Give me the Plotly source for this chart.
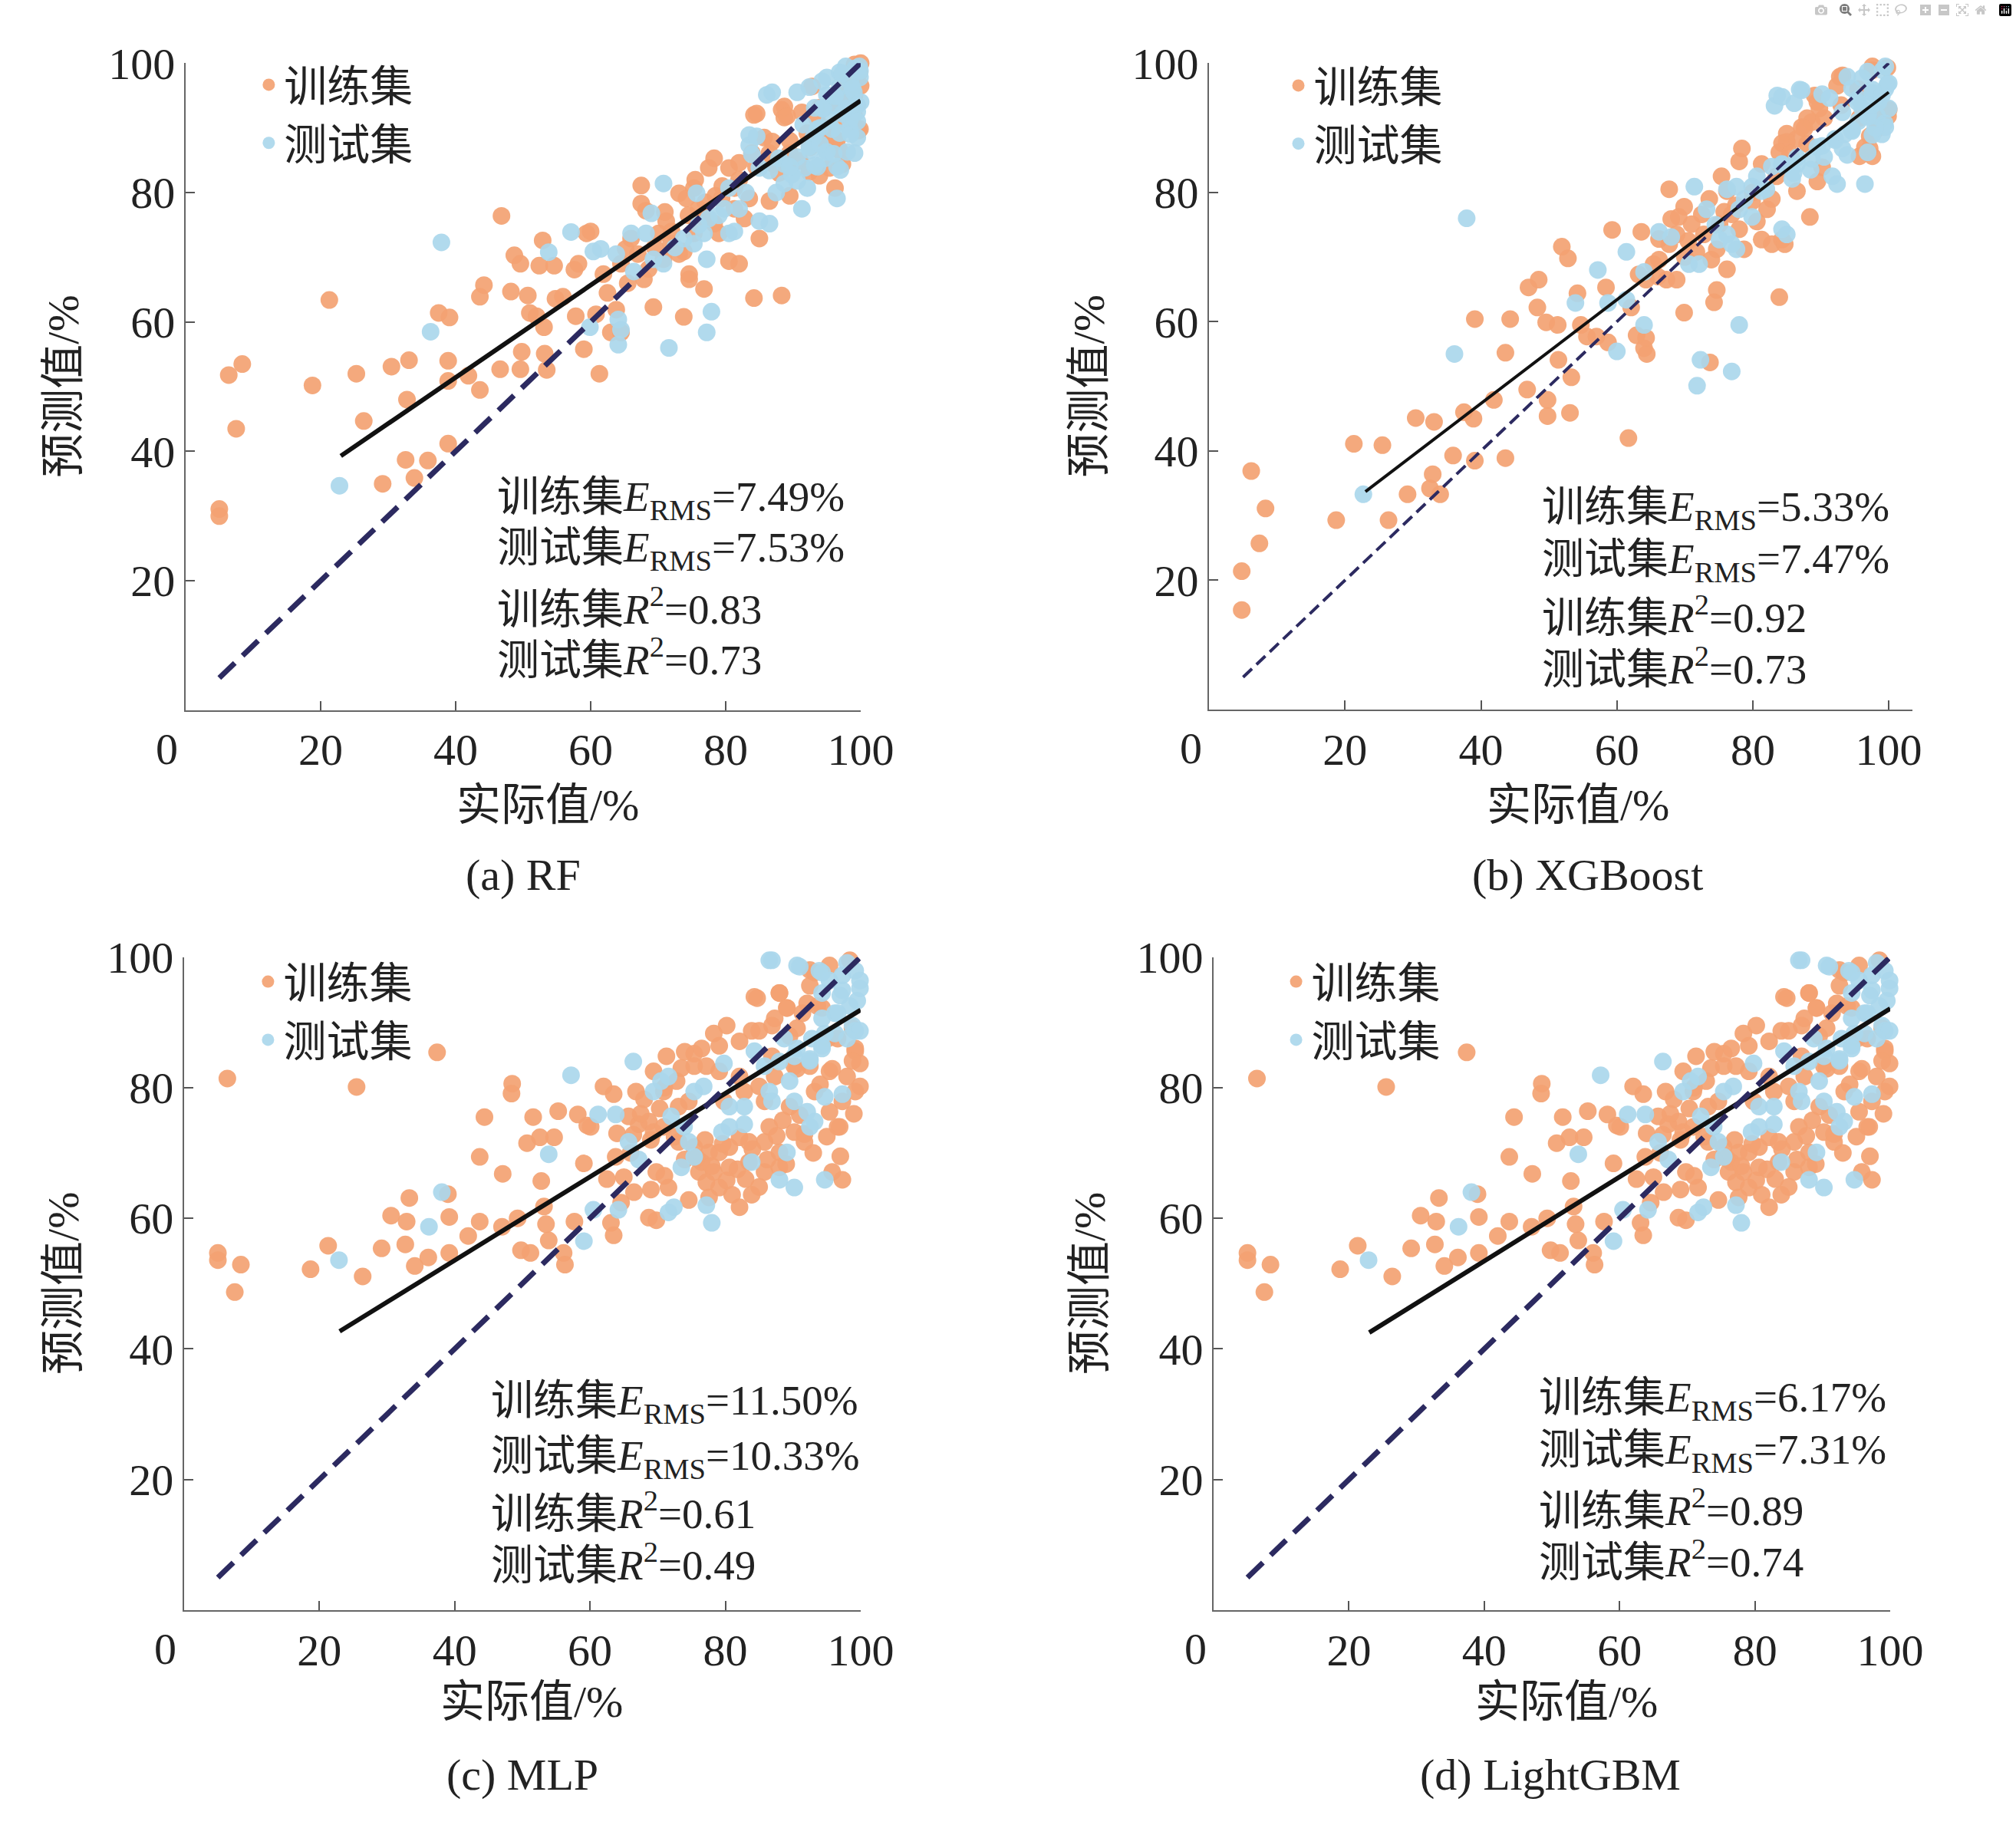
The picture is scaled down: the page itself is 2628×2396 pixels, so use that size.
import plotly.graph_objects as go

# ---- data (实际值 x, 预测值 y, in %) ----

# (a) RF
rf_train_x = [5.0, 5.0, 6.4, 8.4, 7.5, 18.8, 21.3, 25.3, 26.4, 29.2, 30.5, 33.1, 32.8, 32.6, 33.9, 35.9,
              37.5, 39.1, 38.9, 38.9, 38.9, 41.9, 43.6, 43.6, 44.2, 46.8, 46.6, 48.7, 49.6, 48.2, 49.8, 49.6,
              50.7, 51.0, 52.0, 52.9, 52.4, 53.1, 53.2, 53.5, 54.6, 54.8, 55.9, 57.6, 57.8, 58.2, 59.0, 59.4,
              61.3, 84.2, 88.3, 88.7, 91.3, 99.7, 96.5, 96.9, 78.3, 77.5, 80.5, 82.0, 85.7, 86.5, 83.9, 89.5,
              91.0, 93.9, 95.4, 96.2, 67.5, 67.5, 68.2, 60.0, 73.1, 74.2, 75.3, 76.0, 79.4, 81.3, 83.5, 86.5,
              89.5, 70.1, 71.2, 71.9, 73.8, 75.3, 76.8, 78.3, 79.0, 82.8, 65.2, 66.0, 64.5, 61.9, 67.9, 68.6,
              70.8, 73.1, 80.5, 82.0, 74.6, 74.6, 76.8, 69.3, 73.8, 84.2, 88.3, 60.8, 63.8, 63.0, 64.5, 85.0,
              81.3, 87.9, 92.1, 94.7, 93.9, 99.1, 99.8, 99.1, 97.0, 99.0, 95.5, 98.0, 100.0, 93.5,
              84.6, 88.7, 89.1, 92.8, 99.9, 100.0, 96.2, 97.3, 92.4, 86.9,
              62.5, 65.5, 67.0, 69.5, 72.0, 74.5, 77.0, 79.5, 82.0, 84.5, 87.0, 89.5, 92.5, 95.0, 97.5, 71.0,
              75.5, 78.5]
rf_train_y = [31.1, 30.0, 51.8, 53.5, 43.5, 50.2, 63.4, 52.0, 44.7, 35.0, 53.1, 54.1, 48.0, 38.7, 35.9, 38.6,
              61.4, 60.7, 54.0, 50.9, 41.2, 51.7, 49.5, 63.9, 65.7, 76.4, 52.7, 70.3, 69.0, 64.7, 55.4, 52.7,
              64.1, 61.4, 60.9, 72.6, 68.7, 59.2, 55.1, 52.6, 68.7, 63.6, 63.9, 68.1, 60.9, 69.0, 55.8, 73.7,
              52.0, 92.0, 92.8, 91.6, 92.4, 89.6, 88.1, 86.5, 85.3, 83.8, 83.8, 84.6, 88.5, 86.1, 86.1, 86.1,
              84.9, 82.6, 83.8, 80.7, 81.1, 78.3, 77.2, 74.0, 79.9, 79.1, 80.7, 77.5, 79.1, 77.5, 79.1, 78.7,
              79.5, 73.7, 75.6, 72.1, 70.9, 73.7, 76.0, 75.2, 73.7, 76.0, 71.3, 72.9, 69.0, 67.4, 66.6, 68.2,
              69.7, 70.5, 69.4, 69.0, 67.4, 66.6, 65.1, 62.3, 60.8, 63.7, 64.1, 61.2, 61.9, 58.4, 58.4, 72.9,
              80.7, 83.0, 89.2, 88.1, 93.1, 95.1, 98.6, 99.8, 95.0, 92.0, 93.8, 97.5, 96.5, 91.5,
              92.2, 93.3, 91.8, 96.4, 89.8, 100.0, 88.3, 84.4, 83.2, 87.9,
              64.5, 66.0, 70.5, 71.5, 74.0, 76.5, 78.5, 81.0, 82.0, 84.0, 84.5, 88.0, 87.0, 90.0, 91.0, 77.0,
              82.0, 79.5]
rf_test_x = [22.8, 37.9, 36.3, 53.8, 57.1, 59.9, 64.1, 71.6, 86.1, 86.9, 90.6, 92.4, 95.0, 96.9, 99.2, 99.9,
             96.9, 95.0, 93.2, 95.4, 98.4, 99.1, 96.9, 94.7, 93.2, 91.7, 92.1, 96.5, 83.5, 83.5, 85.0, 86.5,
             88.7, 90.6, 87.9, 70.8, 69.0, 68.2, 66.0, 61.5, 60.4, 63.8, 66.4, 75.7, 80.5, 82.0, 79.8, 77.5,
             80.5, 76.8, 75.3, 73.8, 81.3, 85.0, 86.5, 91.3, 77.2, 69.3, 70.8, 77.9, 77.2, 64.1, 64.5, 97.5,
             99.0, 98.0, 94.0, 99.5, 98.5, 99.8, 97.8, 96.0, 99.5, 93.0, 91.5, 94.5,
             94.3, 97.3, 99.9, 98.8, 96.2, 94.3, 97.3, 99.5, 98.4, 95.8, 93.6, 92.4, 95.0, 98.0, 90.6, 93.6,
             96.5, 88.7, 84.6, 83.9, 89.8,
             72.5, 76.0, 79.0, 83.0, 87.5, 89.5, 92.5, 94.0, 96.0, 98.5, 97.0, 100.0, 99.5]
rf_test_y = [34.7, 72.3, 58.5, 70.8, 73.9, 59.2, 56.5, 56.0, 95.1, 95.5, 95.5, 96.3, 97.8, 98.6, 99.2, 97.8,
             96.3, 95.1, 93.1, 91.2, 91.2, 86.1, 89.2, 85.3, 84.2, 83.8, 80.7, 79.1, 88.9, 87.3, 83.8, 83.4,
             81.4, 81.8, 85.3, 81.4, 76.8, 73.7, 73.7, 71.3, 70.9, 70.5, 67.8, 79.9, 80.7, 77.5, 77.5, 76.0,
             73.7, 73.7, 72.1, 72.9, 74.0, 75.6, 75.2, 77.5, 69.7, 69.7, 69.0, 61.6, 58.4, 60.4, 58.8, 94.5,
             95.5, 93.0, 90.0, 93.5, 97.0, 99.5, 99.5, 93.5, 88.5, 88.5, 90.5, 93.0,
             97.2, 98.4, 98.8, 96.1, 94.9, 93.0, 92.2, 92.5, 89.8, 89.8, 89.8, 87.1, 86.3, 86.3, 85.5, 84.0,
             84.0, 84.4, 88.7, 85.9, 82.8,
             71.5, 75.0, 76.5, 80.0, 80.0, 84.0, 86.5, 87.5, 86.0, 89.0, 83.5, 94.0, 91.0]

# (b) XGBoost
xgb_train_x = [4.8, 4.8, 6.2, 7.4, 8.3, 18.7, 21.3, 25.5, 26.4, 29.2, 30.4, 33.1, 32.9, 32.5, 34.0, 35.9,
               37.5, 38.9, 39.1, 39.1, 41.9, 43.6, 44.3, 43.6, 46.8, 47.0, 48.5, 48.3, 49.6, 49.8, 49.8, 51.3,
               51.9, 52.8, 51.4, 53.3, 53.1, 54.2, 54.7, 55.6, 57.0, 58.4, 58.7, 59.3, 61.7, 64.0, 64.4, 73.7,
               93.2, 97.6, 99.8, 92.4, 89.1, 89.8, 88.0, 87.6, 85.0, 99.8, 99.9, 97.2, 97.6, 95.7, 78.4, 78.0,
               81.3, 84.3, 86.5, 75.4, 76.2, 73.6, 72.5, 69.9, 67.7, 69.1, 71.0, 68.0, 67.7, 65.4, 63.6, 66.2,
               68.8, 75.1, 76.9, 78.0, 80.6, 81.3, 82.8, 84.3, 84.7, 82.1, 82.8, 88.4, 89.5, 86.5, 71.7, 73.9,
               74.7, 76.2, 78.7, 66.2, 64.3, 67.3, 68.8, 74.7, 74.3, 69.9, 83.9, 62.9, 64.3, 62.1, 63.2, 79.9,
               95.7, 97.2, 98.3,
               92.8, 97.6, 89.5, 88.7, 87.2, 100.0, 99.1, 96.5, 85.0, 83.9, 90.2,
               66.0, 70.5, 72.8, 77.5, 80.0, 83.5, 85.5, 88.0, 90.5, 93.0, 95.5, 70.0, 75.8]
xgb_train_y = [21.4, 15.4, 36.9, 25.7, 31.1, 29.3, 41.1, 40.9, 29.3, 33.3, 45.1, 44.5, 36.4, 34.2, 33.3, 39.3,
               46.0, 45.0, 60.4, 38.5, 47.9, 55.2, 60.4, 38.9, 49.5, 65.3, 66.5, 62.2, 59.9, 47.9, 45.4, 59.5,
               71.6, 69.8, 54.1, 51.4, 45.9, 64.4, 59.5, 57.7, 57.7, 65.3, 56.8, 74.2, 42.0, 55.9, 55.0, 53.7,
               98.1, 98.9, 99.3, 96.5, 95.0, 93.0, 91.5, 89.9, 89.1, 92.6, 91.8, 86.8, 85.6, 85.6, 86.8, 84.8,
               84.4, 87.6, 88.3, 82.5, 80.2, 79.0, 76.6, 77.8, 80.5, 76.2, 75.1, 75.9, 72.0, 68.9, 73.9, 72.8,
               73.5, 75.1, 76.6, 74.3, 75.5, 72.7, 72.0, 72.7, 72.0, 77.4, 79.0, 76.2, 81.7, 80.2, 70.8, 69.6,
               71.2, 68.1, 71.2, 69.6, 66.5, 66.5, 66.5, 64.9, 63.0, 61.4, 63.8, 57.9, 57.5, 62.2, 67.3, 78.6,
               91.5, 88.7, 89.9,
               97.9, 99.5, 94.0, 90.9, 90.1, 92.8, 92.0, 87.0, 87.8, 86.2, 83.9,
               67.0, 72.5, 73.5, 78.0, 80.0, 82.5, 86.0, 87.5, 91.5, 93.5, 96.0, 70.0, 77.0]
xgb_test_x = [22.7, 36.1, 37.9, 53.9, 57.2, 58.7, 60.0, 72.3, 71.8, 76.9, 87.2, 83.6, 83.2, 86.1, 91.3, 94.6,
              96.1, 99.1, 100.0, 97.6, 96.1, 98.3, 99.4, 94.6, 92.1, 93.2, 90.2, 88.7, 86.5, 84.3, 82.8, 91.7,
              92.4, 96.5, 85.8, 80.6, 79.9, 81.3, 77.6, 76.2, 71.4, 73.2, 78.0, 79.9, 76.2, 76.9, 77.6, 75.1,
              84.3, 85.0, 66.2, 61.4, 68.0, 64.0, 70.6, 72.1, 61.4, 64.0, 78.0, 98.5, 99.5, 97.0, 95.5, 99.0,
              84.3, 86.9, 90.2, 93.9, 96.9, 99.5, 99.8, 97.6, 95.4, 93.2, 96.9, 99.5, 97.6, 94.6, 92.1, 89.5,
              86.5, 84.3, 93.9, 96.9,
              74.5, 78.8, 82.0, 86.0, 88.5, 90.5, 93.5, 95.5, 97.5, 99.0, 100.0, 98.0]
xgb_test_y = [33.3, 55.0, 76.0, 62.9, 68.0, 62.9, 55.4, 54.1, 50.1, 52.3, 95.8, 95.0, 93.4, 93.8, 94.6, 96.1,
              97.7, 98.9, 96.9, 95.4, 93.0, 91.8, 90.7, 89.5, 88.3, 86.8, 87.2, 85.2, 84.4, 84.4, 84.0, 82.5,
              81.3, 81.3, 82.1, 82.5, 80.9, 80.2, 80.9, 80.5, 80.9, 77.4, 77.4, 76.2, 73.5, 72.0, 71.2, 72.7,
              74.3, 73.5, 73.9, 70.8, 73.1, 67.7, 68.9, 68.9, 63.4, 59.5, 59.5, 94.0, 96.0, 92.0, 94.5, 89.0,
              94.8, 95.9, 95.2, 97.9, 98.7, 99.5, 96.7, 95.9, 94.0, 92.4, 91.7, 90.1, 88.9, 89.7, 88.1, 87.0,
              85.4, 84.3, 85.8, 86.2,
              75.0, 79.0, 80.5, 83.0, 83.5, 85.5, 89.0, 91.0, 93.5, 95.0, 93.0, 90.0]

# (c) MLP
mlp_train_x = [5.0, 5.0, 6.4, 7.5, 8.4, 18.7, 21.3, 25.5, 26.4, 29.2, 30.6, 32.9, 32.7, 33.3, 34.1, 36.1,
               37.4, 39.2, 39.2, 39.0, 42.0, 43.7, 43.7, 44.4, 47.1, 47.0, 48.5, 48.4, 49.3, 49.8, 51.2, 50.7,
               51.6, 52.6, 52.8, 53.2, 53.5, 53.9, 54.7, 55.3, 56.1, 56.3, 57.7, 58.2, 59.6, 59.1,
               84.3, 88.0, 89.1, 92.1, 94.3, 92.5, 95.4, 98.4, 80.2, 83.9, 87.3, 89.5, 98.8, 99.2, 99.9, 96.6,
               78.3, 79.1, 82.1, 75.4, 75.4, 71.3, 69.4, 66.8, 67.2, 66.4, 62.0, 63.5, 60.1, 63.8, 65.0, 70.9,
               72.8, 74.6, 77.2, 79.1, 82.1, 85.0, 87.3, 90.2, 92.5, 95.4, 98.0, 99.9, 99.2, 93.2, 89.5, 85.8,
               82.8, 79.8, 73.1, 68.7, 69.4, 70.9, 65.7, 73.1, 75.4, 76.5, 77.6, 79.1, 80.6, 82.1, 83.5, 85.8,
               86.5, 88.0, 90.2, 91.7, 95.4, 96.9, 97.3, 76.1, 78.3, 80.6, 83.5, 85.8, 88.0, 77.2, 79.1, 69.8,
               71.6, 69.0, 74.6, 77.6, 81.0, 83.9, 82.1, 69.8, 68.7, 64.6, 63.1, 63.5, 95.8, 97.3, 96.6, 91.7,
               93.2, 92.5, 84.7, 88.0, 89.1, 91.4, 93.6, 86.9, 85.0, 90.6, 95.1, 99.2, 98.8, 95.8, 90.6, 86.9,
               75.8, 78.0, 79.6, 81.8, 84.0, 86.2, 87.6, 89.0, 77.0, 80.2, 83.0, 85.0, 74.0, 72.5, 70.3, 68.0,
               71.0, 73.5, 76.5, 74.0, 69.0, 66.0, 67.5, 64.0, 62.5, 66.5, 71.0, 88.5, 91.0, 93.0, 95.0, 97.0,
               99.0, 94.0]
mlp_train_y = [54.7, 53.6, 81.4, 48.7, 52.9, 52.2, 55.8, 80.1, 51.1, 55.4, 60.4, 59.5, 56.0, 63.1, 52.7, 54.0,
               85.4, 60.2, 54.7, 63.7, 57.3, 59.5, 69.4, 75.5, 66.8, 58.7, 80.6, 79.1, 60.0, 55.1, 54.7, 71.5,
               75.5, 72.4, 65.7, 61.8, 59.1, 56.6, 72.4, 76.4, 54.7, 52.9, 59.5, 75.9, 74.2, 68.4,
               93.9, 94.5, 92.2, 92.9, 92.2, 98.0, 98.7, 99.5, 89.5, 88.7, 90.6, 87.9, 89.1, 85.6, 83.7, 87.5,
               88.3, 86.4, 87.1, 85.2, 83.3, 84.8, 82.5, 79.4, 74.4, 72.8, 80.2, 79.0, 74.0, 69.4, 66.3, 79.4,
               81.0, 77.9, 83.3, 82.5, 81.7, 80.2, 81.7, 83.3, 83.3, 82.5, 81.7, 80.2, 79.4, 79.4, 77.1, 77.9,
               79.4, 77.9, 77.1, 74.8, 73.2, 74.0, 75.6, 71.7, 70.9, 68.6, 70.1, 70.1, 70.9, 72.4, 71.7, 71.7,
               74.0, 70.1, 73.2, 71.7, 76.3, 74.0, 77.9, 67.1, 67.1, 67.8, 68.6, 67.1, 67.8, 65.5, 64.7, 67.1,
               64.7, 64.4, 62.8, 63.2, 63.6, 63.6, 61.7, 59.7, 60.1, 62.4, 59.3, 57.4, 67.1, 65.9, 74.0, 72.9,
               97.6, 95.6, 93.7, 94.5, 92.2, 91.4, 92.5, 89.5, 88.7, 89.1, 87.5, 86.0, 84.1, 82.9, 82.9, 84.8,
               69.2, 68.0, 71.4, 67.5, 70.6, 69.0, 72.6, 68.3, 72.0, 65.8, 66.0, 64.8, 69.0, 72.5, 76.8, 78.2,
               80.0, 83.0, 86.0, 85.5, 72.0, 70.0, 76.0, 73.0, 66.0, 64.0, 66.5, 75.0, 75.8, 70.0, 72.5, 69.5,
               76.0, 80.5]
mlp_test_x = [22.9, 36.2, 38.1, 53.9, 57.2, 59.1, 86.5, 90.6, 93.9, 95.4, 97.3, 99.2, 99.9, 97.0, 98.4, 99.2,
              96.2, 94.7, 94.3, 92.5, 90.2, 88.0, 85.8, 84.3, 89.5, 86.5, 66.4, 70.5, 69.4, 71.6, 75.4, 76.8,
              79.8, 80.6, 82.8, 86.9, 90.2, 92.1, 94.7, 97.3, 61.2, 63.8, 72.0, 73.9, 80.6, 82.8, 74.6, 75.4,
              79.5, 83.9, 89.1, 93.2, 92.5, 73.5, 67.2, 65.7, 88.0, 90.2, 94.7, 72.4, 71.6, 77.2, 78.0, 60.5,
              64.2,
              86.9, 91.0, 94.3, 98.0, 99.9, 97.3, 94.3, 99.5, 96.6, 94.3, 98.8, 99.9, 96.2, 92.8, 94.3, 90.6,
              88.7, 92.5, 98.0]
mlp_test_y = [53.6, 58.7, 64.0, 69.8, 81.9, 56.5, 99.5, 98.7, 97.9, 96.4, 97.2, 97.9, 95.2, 94.1, 92.5, 88.7,
              91.4, 88.3, 86.4, 84.4, 84.8, 84.0, 83.3, 85.6, 81.0, 79.4, 84.0, 81.0, 79.4, 81.7, 79.4, 80.2,
              83.7, 77.1, 77.1, 77.9, 77.9, 76.3, 78.6, 79.0, 75.9, 75.9, 75.6, 74.0, 74.0, 74.4, 71.7, 69.4,
              73.2, 68.6, 70.1, 74.8, 74.0, 67.8, 69.0, 71.7, 65.9, 64.7, 65.9, 61.7, 60.9, 62.0, 59.3, 61.3,
              61.3,
              99.5, 98.5, 97.6, 99.1, 96.4, 94.9, 94.5, 93.3, 91.4, 90.6, 89.5, 88.7, 88.3, 87.5, 86.0, 86.0,
              87.5, 84.1, 87.5]

# (d) LightGBM -- the scatter is the same cloud as (c) in the figure
lgbm_train_x = mlp_train_x
lgbm_train_y = mlp_train_y
lgbm_test_x = mlp_test_x
lgbm_test_y = mlp_test_y

# fitted lines and y=x reference
fit_x = [23, 100]
rf_fit_y = [39.3, 94.2]
xgb_fit_y = [33.7, 95.5]
mlp_fit_y = [42.7, 91.9]
lgbm_fit_y = [42.5, 92.1]
diag = [5, 100]

rf_stats = ["7.49%", "7.53%", "0.83", "0.73"]
xgb_stats = ["5.33%", "7.47%", "0.92", "0.73"]
mlp_stats = ["11.50%", "10.33%", "0.61", "0.49"]
lgbm_stats = ["6.17%", "7.31%", "0.89", "0.74"]

captions = ["(a) RF", "(b) XGBoost", "(c) MLP", "(d) LightGBM"]
tick_vals = [20, 40, 60, 80, 100]

# ---- figure ----
W, H = 2628, 2396
DY = -32  # the page lands a little low in the shot, pull everything up
SERIF = "Liberation Serif, Times New Roman, Noto Sans CJK SC"
ORANGE = "rgb(243,162,114)"
BLUE = "rgb(170,215,236)"
NAVY = "#2c2a60"
TXT = "#222222"

fig = go.Figure()

# per-panel layout values (pixels, measured on the reference)
panels = [
    dict(tx=rf_train_x, ty=rf_train_y, sx=rf_test_x, sy=rf_test_y, fy=rf_fit_y, st=rf_stats,
         x0=246, x1=1141, xmax=100, top=83, bot=938, lw=6, dw=7, dash="28px,14px",
         sxp=45.9, syp=[32.5, 24.7, 16.1, 8.2], leg=(352, 111), ytx=84, xtx=726, xty=1063, cx=694, cy=1155),
    dict(tx=xgb_train_x, ty=xgb_train_y, sx=xgb_test_x, sy=xgb_test_y, fy=xgb_fit_y, st=xgb_stats,
         x0=1603, x1=2504, xmax=103.5, top=83, bot=937, lw=4, dw=4, dash="16px,8px",
         sxp=48.7, syp=[30.9, 22.8, 14.7, 6.7], leg=(1717, 112), ytx=1444, xtx=2092, xty=1063, cx=2105, cy=1155),
    dict(tx=mlp_train_x, ty=mlp_train_y, sx=mlp_test_x, sy=mlp_test_y, fy=mlp_fit_y, st=mlp_stats,
         x0=244, x1=1141, xmax=100, top=1264, bot=2127, lw=6, dw=7, dash="28px,14px",
         sxp=45.1, syp=[31.6, 23.2, 15.2, 7.3], leg=(351, 1296), ytx=84, xtx=705, xty=2248, cx=693, cy=2344),
    dict(tx=lgbm_train_x, ty=lgbm_train_y, sx=lgbm_test_x, sy=lgbm_test_y, fy=lgbm_fit_y, st=lgbm_stats,
         x0=1609, x1=2506, xmax=100, top=1264, bot=2127, lw=6, dw=7, dash="28px,14px",
         sxp=47.8, syp=[32.1, 24.1, 15.7, 7.8], leg=(1714, 1296), ytx=1444, xtx=2077, xty=2248, cx=2055, cy=2344),
]


def py(pix):
    # pixel row -> paper fraction
    return 1 - (pix + DY) / H


annotations = []
for i, p in enumerate(panels):
    n = "" if i == 0 else str(i + 1)
    xa, ya, lg = "x" + n, "y" + n, "legend" + n

    fig.add_trace(go.Scatter(x=p["tx"], y=p["ty"], mode="markers", name="训练集",
                             marker=dict(size=23, color=ORANGE, opacity=0.92),
                             xaxis=xa, yaxis=ya, legend=lg, cliponaxis=False))
    fig.add_trace(go.Scatter(x=p["sx"], y=p["sy"], mode="markers", name="测试集",
                             marker=dict(size=23, color=BLUE, opacity=0.92),
                             xaxis=xa, yaxis=ya, legend=lg, cliponaxis=False))
    fig.add_trace(go.Scatter(x=fit_x, y=p["fy"], mode="lines", showlegend=False,
                             line=dict(color="#111111", width=p["lw"]), xaxis=xa, yaxis=ya))
    fig.add_trace(go.Scatter(x=diag, y=diag, mode="lines", showlegend=False,
                             line=dict(color=NAVY, width=p["dw"], dash=p["dash"]), xaxis=xa, yaxis=ya))

    # domains: x=100 sits at x1 pixel
    px_per = (p["x1"] - p["x0"]) / 100.0
    right = p["x0"] + px_per * p["xmax"]
    axis_style = dict(showline=True, linecolor="#666666", linewidth=2, ticks="inside", ticklen=12,
                      tickwidth=2, tickcolor="#555555", showgrid=False, zeroline=False,
                      tickfont=dict(family=SERIF, size=58, color=TXT))
    fig.layout["xaxis" + n] = dict(domain=[p["x0"] / W, right / W], range=[0, p["xmax"]],
                                   tickvals=tick_vals, anchor=ya, **axis_style)
    fig.layout["yaxis" + n] = dict(domain=[py(p["bot"]), py(p["top"])], range=[0, 100],
                                   tickvals=tick_vals, anchor=xa, **axis_style)

    fig.layout[lg] = dict(x=(p["leg"][0] - 16) / W, y=py(p["leg"][1] - 43),
                          xanchor="left", yanchor="top", bgcolor="rgba(0,0,0,0)",
                          font=dict(family=SERIF, size=56, color=TXT), tracegroupgap=0,
                          itemsizing="trace")

    # "0" label sits left of the corner
    annotations.append(dict(x=0, y=0, xref=xa, yref=ya, text="0", showarrow=False,
                            xanchor="center", yanchor="top", xshift=-24, yshift=-16,
                            font=dict(family=SERIF, size=58, color=TXT)))

    lines = ["训练集<i>E</i><sub>RMS</sub>=" + p["st"][0],
             "测试集<i>E</i><sub>RMS</sub>=" + p["st"][1],
             "训练集<i>R</i><sup>2</sup>=" + p["st"][2],
             "测试集<i>R</i><sup>2</sup>=" + p["st"][3]]
    for txt, yy in zip(lines, p["syp"]):
        annotations.append(dict(x=p["sxp"], y=yy, xref=xa, yref=ya, text=txt, showarrow=False,
                                xanchor="left", yanchor="middle",
                                font=dict(family=SERIF, size=55, color=TXT)))

    annotations.append(dict(x=p["ytx"] / W, y=py((p["top"] + p["bot"]) / 2), xref="paper", yref="paper",
                            text="预测值/%", textangle=-90, showarrow=False, xanchor="center", yanchor="middle",
                            font=dict(family=SERIF, size=58, color=TXT)))
    annotations.append(dict(x=p["xtx"] / W, y=py(p["xty"]), xref="paper", yref="paper",
                            text="实际值/%", showarrow=False, xanchor="center", yanchor="middle",
                            font=dict(family=SERIF, size=58, color=TXT)))
    annotations.append(dict(x=p["cx"] / W, y=py(p["cy"]), xref="paper", yref="paper",
                            text=captions[i], showarrow=False, xanchor="center", yanchor="middle",
                            font=dict(family=SERIF, size=58, color=TXT)))

fig.update_layout(width=W, height=H, autosize=False, margin=dict(l=0, r=0, t=0, b=0),
                  plot_bgcolor="white", paper_bgcolor="white", annotations=annotations,
                  font=dict(family=SERIF, color=TXT))

fig.write_html("out.html", post_script="document.body.style.margin='0';")
